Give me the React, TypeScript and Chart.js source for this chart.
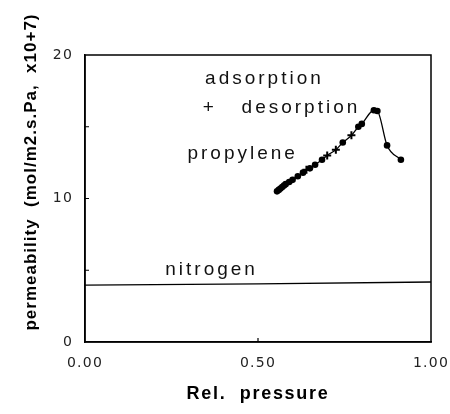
import React, { useEffect, useRef } from "react";
import { Chart, registerables } from "chart.js";

Chart.register(...registerables);

// ---- data ----
const adsorptionX = [0.555, 0.56, 0.565, 0.57, 0.575, 0.58, 0.59, 0.6, 0.615, 0.63, 0.65, 0.665, 0.685, 0.745, 0.79, 0.8, 0.835, 0.845, 0.873, 0.913];
const adsorptionY = [10.5, 10.6, 10.7, 10.8, 10.9, 11.0, 11.15, 11.3, 11.55, 11.8, 12.1, 12.35, 12.7, 13.9, 15.0, 15.2, 16.15, 16.1, 13.7, 12.7];
const desorptionX = [0.64, 0.7, 0.725, 0.77];
const desorptionY = [12.0, 13.0, 13.4, 14.4];
const nitrogenX = [0, 0.5, 1.0];
const nitrogenY = [3.97, 4.05, 4.18];
const xTickValues = [0, 0.5, 1.0];
const yTickValues = [0, 10, 20];
const yMinorTicks = [5, 10, 15];
const xMinorTicks = [0.5];
const xTitle = "Rel.  pressure";
const yTitle = "permeability  (mol/m2.s.Pa,  x10+7)";
const annotationTexts = ["adsorption", "+   desorption", "propylene", "nitrogen"];
const annotationX = [0.347, 0.34, 0.296, 0.232];
const annotationY = [17.98, 15.95, 12.75, 4.7];

const propyleneLine = [
  ...adsorptionX.map((x, i) => ({ x, y: adsorptionY[i] })),
  ...desorptionX.map((x, i) => ({ x, y: desorptionY[i] })),
].sort((a, b) => a.x - b.x);

const TICK_FONT = "'DejaVu Sans', sans-serif";
const TEXT_FONT = "'Liberation Sans', Arial, sans-serif";

const decorPlugin = {
  id: "decor",
  beforeDraw(chart: any) {
    chart.ctx.letterSpacing = "1.2px";
  },
  afterDraw(chart: any) {
    const { ctx, chartArea: a, scales } = chart;
    const xs = scales.x;
    const ys = scales.y;
    ctx.save();
    ctx.letterSpacing = "0px";
    // box
    ctx.strokeStyle = "#000";
    ctx.lineWidth = 1.5;
    ctx.strokeRect(a.left, a.top, a.right - a.left, a.bottom - a.top);
    // inward minor ticks
    ctx.lineWidth = 1.2;
    ctx.beginPath();
    yMinorTicks.forEach((v) => {
      const py = ys.getPixelForValue(v);
      ctx.moveTo(a.left, py);
      ctx.lineTo(a.left + 4, py);
    });
    xMinorTicks.forEach((v) => {
      const px = xs.getPixelForValue(v);
      ctx.moveTo(px, a.bottom);
      ctx.lineTo(px, a.bottom - 4);
    });
    ctx.stroke();
    // annotations
    ctx.fillStyle = "#111";
    ctx.font = `19px ${TEXT_FONT}`;
    ctx.letterSpacing = "3px";
    ctx.textAlign = "left";
    ctx.textBaseline = "alphabetic";
    annotationTexts.forEach((t, i) => {
      ctx.fillText(t, xs.getPixelForValue(annotationX[i]), ys.getPixelForValue(annotationY[i]));
    });
    // axis titles
    ctx.font = `bold 18px ${TEXT_FONT}`;
    ctx.letterSpacing = "1.7px";
    ctx.textAlign = "center";
    ctx.textBaseline = "middle";
    ctx.fillStyle = "#000";
    ctx.fillText(xTitle, (a.left + a.right) / 2, 394);
    ctx.translate(31, 172);
    ctx.rotate(-Math.PI / 2);
    ctx.font = `bold 17px ${TEXT_FONT}`;
    ctx.letterSpacing = "1px";
    ctx.fillText(yTitle, 0, 0);
    ctx.restore();
    ctx.letterSpacing = "0px";
  },
};

export default function App() {
  const ref = useRef<HTMLCanvasElement | null>(null);
  useEffect(() => {
    if (!ref.current) return;
    const chart = new Chart(ref.current, {
      type: "scatter",
      data: {
        datasets: [
          {
            label: "propylene curve",
            data: propyleneLine,
            showLine: true,
            borderColor: "#000",
            borderWidth: 1.3,
            pointRadius: 0,
            cubicInterpolationMode: "monotone",
          } as any,
          {
            label: "adsorption",
            data: adsorptionX.map((x, i) => ({ x, y: adsorptionY[i] })),
            pointStyle: "circle",
            pointRadius: 3.3,
            backgroundColor: "#000",
            borderColor: "#000",
            borderWidth: 0,
          },
          {
            label: "desorption",
            data: desorptionX.map((x, i) => ({ x, y: desorptionY[i] })),
            pointStyle: "cross",
            pointRadius: 4,
            borderColor: "#000",
            borderWidth: 2,
          },
          {
            label: "nitrogen",
            data: nitrogenX.map((x, i) => ({ x, y: nitrogenY[i] })),
            showLine: true,
            borderColor: "#000",
            borderWidth: 1.3,
            pointRadius: 0,
          },
        ],
      },
      options: {
        responsive: false,
        animation: false,
        events: [],
        layout: { padding: { top: 55, right: 19, left: 0, bottom: 0 } },
        plugins: { legend: { display: false }, tooltip: { enabled: false } },
        scales: {
          x: {
            type: "linear",
            min: 0,
            max: 1,
            afterBuildTicks: (s: any) => {
              s.ticks = xTickValues.map((v) => ({ value: v }));
            },
            afterFit: (s: any) => {
              s.height = 72;
              s.paddingLeft = 0;
              s.paddingRight = 0;
            },
            ticks: {
              callback: (v: any) => Number(v).toFixed(2),
              font: { family: TICK_FONT, size: 14 },
              color: "#222",
              padding: 13,
              maxRotation: 0,
            },
            grid: { drawOnChartArea: false, drawTicks: false },
            border: { display: true, color: "#000", width: 1.5 },
          },
          y: {
            type: "linear",
            min: 0,
            max: 20,
            afterBuildTicks: (s: any) => {
              s.ticks = yTickValues.map((v) => ({ value: v }));
            },
            afterFit: (s: any) => {
              s.width = 85;
              s.paddingTop = 0;
              s.paddingBottom = 0;
            },
            ticks: {
              font: { family: TICK_FONT, size: 14 },
              color: "#222",
              padding: 12,
            },
            grid: { drawOnChartArea: false, drawTicks: false },
            border: { display: true, color: "#000", width: 1.5 },
          },
        },
      },
      plugins: [decorPlugin],
    });
    return () => chart.destroy();
  }, []);
  return (
    <div style={{ position: "absolute", left: 0, top: 0, width: 450, height: 414, background: "#fff" }}>
      <canvas ref={ref} width={450} height={414} />
    </div>
  );
}
